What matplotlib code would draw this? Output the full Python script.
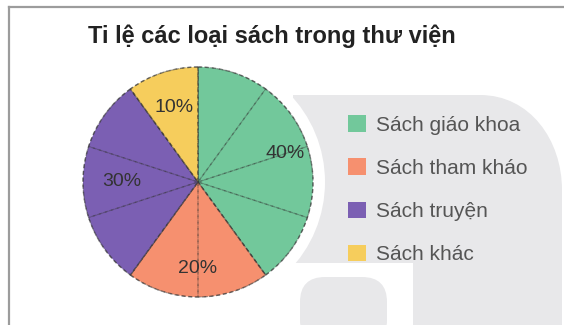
import numpy as np
import matplotlib
matplotlib.use("Agg")
import matplotlib.pyplot as plt
from matplotlib.patches import Patch, FancyBboxPatch, Circle, PathPatch
from matplotlib.path import Path

plt.rcParams['font.family'] = ['Liberation Sans', 'DejaVu Sans']

title = "Ti lệ các loại sách trong thư viện"
labels = ["Sách giáo khoa", "Sách tham kháo", "Sách truyện", "Sách khác"]
values = [40, 20, 30, 10]
colors = ["#72c89b", "#f6906f", "#7b5fb3", "#f6cd5c"]
tick_step = 10  # dashed lines every 10 %

# pixel layout (figure is 564 x 325 px, y measured from bottom)
W, H = 564, 325
cx, cy, R = 198, H - 182, 115
label_r = [0.80, 0.75, 0.66, 0.68]

fig = plt.figure(figsize=(W / 100, H / 100), dpi=100)
ax = fig.add_axes([0, 0, 1, 1])

# light grey watermark behind the chart
grey = "#e8e8ea"
verts = [(293, H - 100), (293, H - 95), (480, H - 95),
         (530, H - 95), (562, H - 140), (562, H - 190),
         (562, 0), (413, 0), (413, H - 263), (293, H - 263), (293, H - 100)]
codes = [Path.MOVETO, Path.LINETO, Path.LINETO,
         Path.CURVE4, Path.CURVE4, Path.CURVE4,
         Path.LINETO, Path.LINETO, Path.LINETO, Path.LINETO, Path.CLOSEPOLY]
ax.add_patch(PathPatch(Path(verts, codes), facecolor=grey, edgecolor="none", zorder=0))
ax.add_patch(FancyBboxPatch((300, -20), 87, H - 277 + 20, boxstyle="round,pad=0,rounding_size=25",
                            facecolor=grey, edgecolor="none", zorder=0))
ax.add_patch(Circle((cx, cy), R + 12, facecolor="white", edgecolor="none", zorder=0.5))

# frame
ax.plot([9, 9], [0, H - 7], color="#9c9c9c", lw=1.6, zorder=1)
ax.plot([9, W], [H - 7, H - 7], color="#9c9c9c", lw=1.6, zorder=1)

wedges, texts, autotexts = ax.pie(
    values, colors=colors, startangle=90, counterclock=False,
    center=(cx, cy), radius=R, frame=True,
    autopct=lambda p: f"{p:.0f}%", pctdistance=0.72,
    wedgeprops=dict(edgecolor=(0.2, 0.2, 0.2, 0.6), linestyle=(0, (3, 2)), linewidth=1.0),
    textprops=dict(fontsize=14, color="#333333"))
for w in wedges:
    w.set_zorder(2)

# 10 % guide lines
parts = [tick_step] * (100 // tick_step)
guides, _ = ax.pie(parts, startangle=90, counterclock=False, center=(cx, cy), radius=R,
                   frame=True,
                   wedgeprops=dict(fill=False, edgecolor=(0.2, 0.2, 0.2, 0.4),
                                   linestyle=(0, (3, 2)), linewidth=0.9))
for g in guides:
    g.set_zorder(3)

for w, t, r in zip(wedges, autotexts, label_r):
    mid = np.deg2rad((w.theta1 + w.theta2) / 2)
    t.set_position((cx + r * R * np.cos(mid), cy + r * R * np.sin(mid)))
    t.set_zorder(4)

ax.set_xlim(0, W)
ax.set_ylim(0, H)
ax.set_aspect("equal")
ax.axis("off")

handles = [Patch(facecolor=c, edgecolor="none") for c in colors]
ax.legend(handles, labels, loc="upper left", bbox_to_anchor=(348 / W, (H - 115) / H),
          frameon=False, fontsize=15, labelcolor="#555555", handlelength=0.85,
          handleheight=0.85, handletextpad=0.5, labelspacing=1.14, borderpad=0,
          borderaxespad=0)

fig.text(272 / W, 1 - 36 / H, title, ha="center", va="center",
         fontsize=17, fontweight="bold", color="#222222")

fig.savefig("out.png", dpi=100)
